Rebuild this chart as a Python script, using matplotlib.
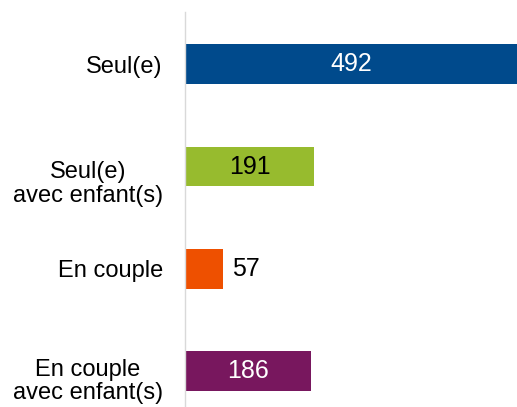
import matplotlib.pyplot as plt
from matplotlib.transforms import ScaledTranslation

plt.rcParams['font.family'] = ['Liberation Sans', 'DejaVu Sans']

categories = ['Seul(e)', 'Seul(e)\navec enfant(s)', 'En couple', 'En couple\navec enfant(s)']
values = [492, 191, 57, 186]
colors = ['#004A8C', '#97BB2E', '#EE5000', '#78175E']
label_colors = ['white', 'black', 'black', 'white']
inside = [True, True, False, True]

fig = plt.figure(figsize=(5.17, 4.07), dpi=100)
ax = fig.add_axes([185 / 517, 0, 1 - 185 / 517, 1 - 12 / 407])

pos = list(range(len(categories)))
ax.barh(pos, values, height=0.39, color=colors)

ax.set_xlim(0, max(values))
ax.set_ylim(3.35, -0.51)

for p, v, c, ins in zip(pos, values, label_colors, inside):
    if ins:
        ax.text(v / 2, p, str(v), ha='center', va='center', color=c, fontsize=18)
    else:
        ax.annotate(str(v), (v, p), xytext=(9 * 0.72, 0), textcoords='offset points',
                    ha='left', va='center', color=c, fontsize=18)

ax.set_yticks(pos)
ax.set_yticklabels(categories, fontsize=17, multialignment='center', linespacing=1.1)
ax.tick_params(axis='y', length=0, pad=16)
ax.set_xticks([])

# multi-line labels sit a bit lower than the bar centre
for lab, dy in zip(ax.get_yticklabels(), [0, -14, 0, -7]):
    lab.set_transform(lab.get_transform() + ScaledTranslation(0, dy / 100, fig.dpi_scale_trans))

for side in ['top', 'right', 'bottom']:
    ax.spines[side].set_visible(False)
ax.spines['left'].set_color('#D9D9D9')
ax.spines['left'].set_linewidth(1.0)

fig.savefig('out.png', dpi=100)
